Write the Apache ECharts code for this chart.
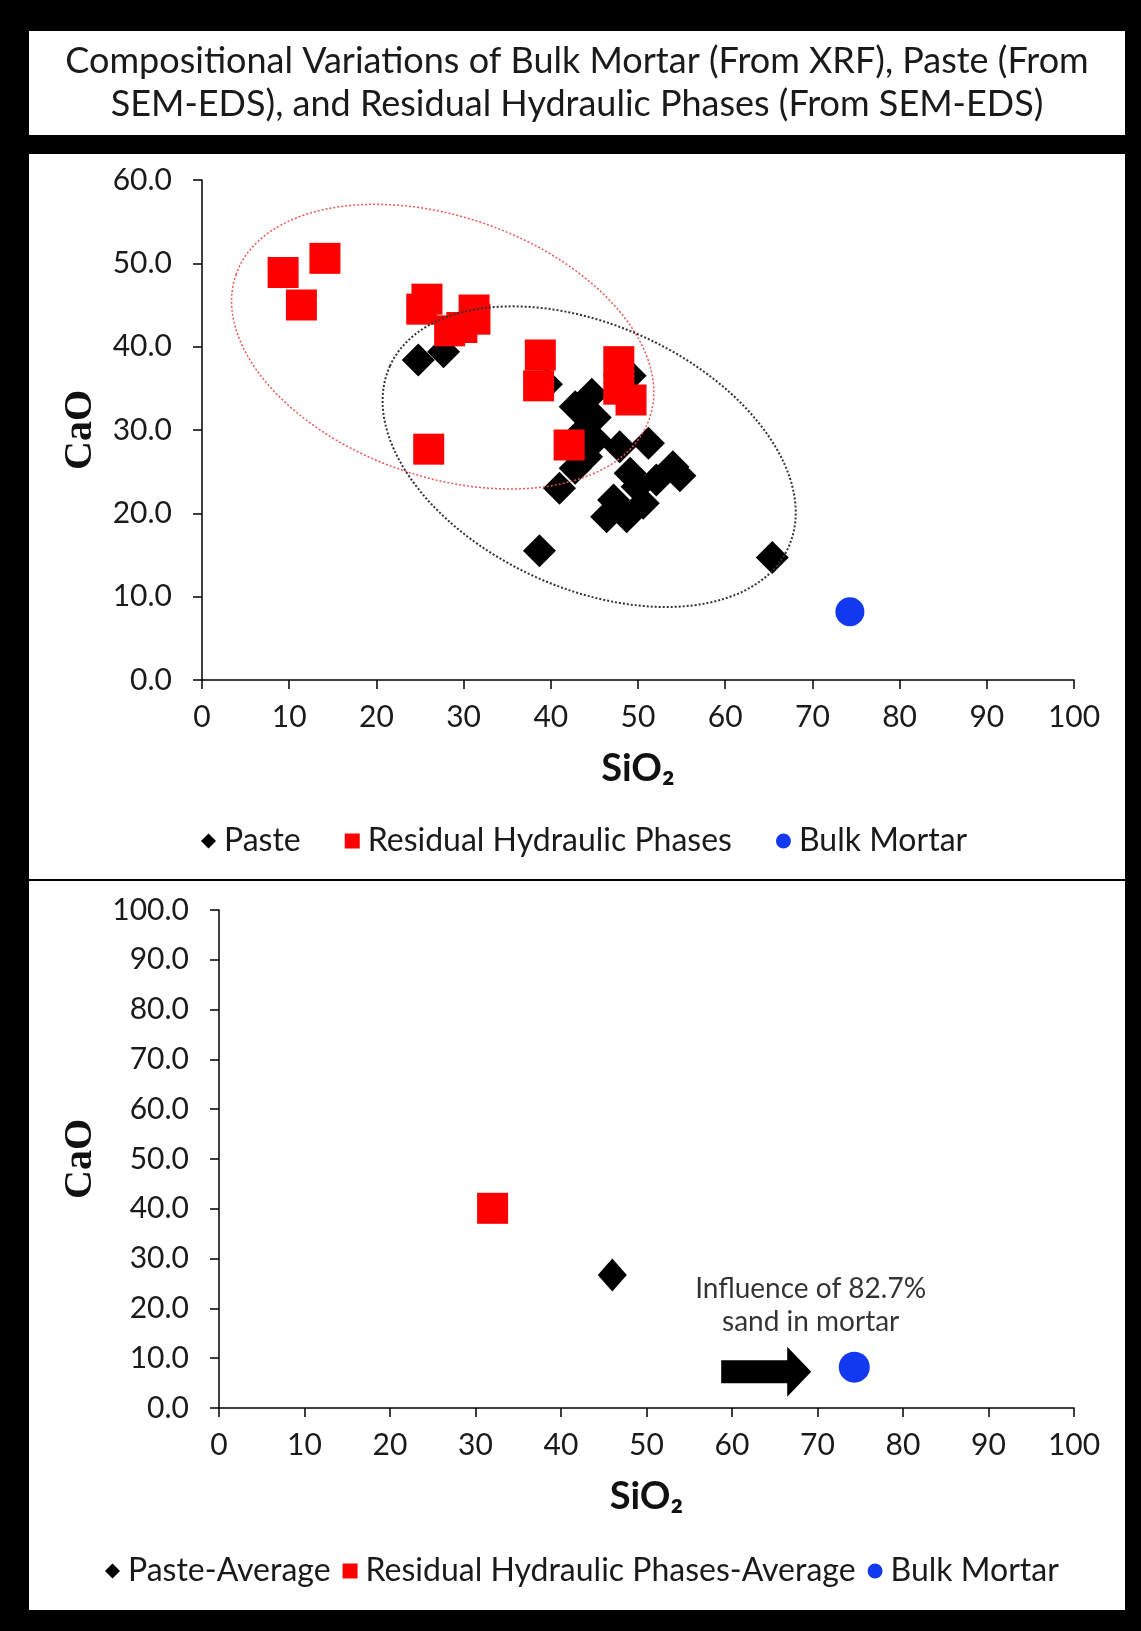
<!DOCTYPE html>
<html lang="en">
<head>
<meta charset="UTF-8">
<title>Compositional Variations of Bulk Mortar, Paste and Residual Hydraulic Phases</title>
<script src="https://cdn.jsdelivr.net/npm/echarts@6/dist/echarts.min.js"></script>
<style>
  html, body { margin: 0; padding: 0; background: #000; }
  #chart { width: 1141px; height: 1631px; }
</style>
</head>
<body>
<div id="chart"></div>
<script>
// [SiO2, CaO] pairs
const pastePoints = [
  [24.8, 38.4], [27.7, 39.4], [38.7, 15.5], [41.0, 23.0], [65.4, 14.7],
  [39.5, 35.5], [49.1, 36.5], [42.8, 32.8], [44.7, 34.3], [45.1, 31.5],
  [43.6, 29.8], [45.1, 28.8], [44.1, 26.8], [42.8, 25.4], [47.9, 28.0],
  [51.2, 28.4], [54.0, 25.6], [54.8, 24.5], [52.1, 24.0], [49.9, 23.2],
  [49.1, 24.8], [47.2, 21.6], [46.4, 19.6], [48.7, 19.6], [50.6, 21.2]
];
const residualPoints = [
  [9.3, 48.9], [14.1, 50.6], [11.4, 45.0], [25.8, 45.7], [25.2, 44.5],
  [31.2, 44.4], [28.4, 41.9], [29.8, 42.3], [31.3, 43.3], [26.0, 27.7],
  [38.8, 39.0], [38.6, 35.3], [42.1, 28.2], [47.8, 38.2], [47.8, 34.9],
  [49.2, 33.6]
];
const bulkMortar = [[74.3, 8.2]];
const pasteAverage = [[46.0, 26.7]];
const residualAverage = [[32.0, 40.1]];

// ellipses: centre SiO2, centre CaO, semi-axis (SiO2 units), semi-axis (CaO units), tilt in degrees
const pasteEllipse = [44.4, 26.8, 25.1, 15.8, 24.5];
const residualEllipse = [27.6, 40.0, 25.1, 15.6, 19.2];

// annotation in the lower chart
const sandArrow = [[64.0, 7.3]];
const sandNote = [[69.2, 20.5]];
const sandNoteText = 'Influence of 82.7%\nsand in mortar';

const xMax = 100, xStep = 10;
const yMaxTop = 60, yMaxBottom = 100, yStep = 10;
const titleLines = [
  'Compositional Variations of Bulk Mortar (From XRF), Paste (From',
  'SEM-EDS), and Residual Hydraulic Phases (From SEM-EDS)'
];

const FONT = 'Lato, "Open Sans", sans-serif';
const INK = '#1a1a1a';

const chart = echarts.init(document.getElementById('chart'));

function xAxisFor(gridIndex) {
  return {
    type: 'value', gridIndex: gridIndex, min: 0, max: xMax, interval: xStep,
    name: 'SiO\u2082', nameLocation: 'middle', nameGap: 70,
    nameTextStyle: { fontFamily: FONT, fontSize: 38, fontWeight: 'bold', color: '#111' },
    axisLine: { show: true, onZero: false, lineStyle: { color: '#000', width: 1.5 } },
    axisTick: { show: true, length: 9, lineStyle: { color: '#000', width: 1.5 } },
    axisLabel: { fontFamily: FONT, fontSize: 30, color: INK, margin: 22 },
    splitLine: { show: false }
  };
}

function yAxisFor(gridIndex, max, gap) {
  return {
    type: 'value', gridIndex: gridIndex, min: 0, max: max, interval: yStep,
    name: 'CaO', nameLocation: 'middle', nameGap: gap,
    nameTextStyle: { fontFamily: '"Liberation Serif", "DejaVu Serif", serif', fontSize: 40,
      fontWeight: 'bold', color: '#111' },
    axisLine: { show: true, onZero: false, lineStyle: { color: '#000', width: 1.5 } },
    axisTick: { show: true, length: 9, lineStyle: { color: '#000', width: 1.5 } },
    axisLabel: { fontFamily: FONT, fontSize: 30, color: INK, margin: 30,
      formatter: function (v) { return v.toFixed(1); } },
    splitLine: { show: false }
  };
}

function ellipseSeries(params, stroke, width) {
  return {
    type: 'custom', xAxisIndex: 0, yAxisIndex: 0, z: 10, silent: true,
    data: [params],
    renderItem: function (p, api) {
      const c = api.coord([api.value(0), api.value(1)]);
      const s = api.size([api.value(2), api.value(3)]);
      return {
        type: 'ellipse', x: c[0], y: c[1],
        rotation: -api.value(4) * Math.PI / 180,
        shape: { cx: 0, cy: 0, rx: s[0], ry: s[1] },
        style: { fill: 'none', stroke: stroke, lineWidth: width, lineDash: [2, 2] }
      };
    }
  };
}

const legendText = { fontFamily: FONT, fontSize: 32, color: INK, padding: [0, 0, 0, 3] };

chart.setOption({
  backgroundColor: '#000',
  animation: false,
  graphic: [
    { type: 'rect', z: -10, shape: { x: 29, y: 31, width: 1096, height: 104 }, style: { fill: '#fff' } },
    { type: 'rect', z: -10, shape: { x: 29, y: 154, width: 1096, height: 725 }, style: { fill: '#fff' } },
    { type: 'rect', z: -10, shape: { x: 29, y: 881, width: 1096, height: 729 }, style: { fill: '#fff' } },
    { type: 'text', x: 577, y: 61, style: { text: titleLines[0], font: '36px ' + FONT, fill: INK,
      align: 'center', verticalAlign: 'middle', textAlign: 'center', textVerticalAlign: 'middle' } },
    { type: 'text', x: 577, y: 104, style: { text: titleLines[1], font: '36px ' + FONT, fill: INK,
      align: 'center', verticalAlign: 'middle', textAlign: 'center', textVerticalAlign: 'middle' } }
  ],
  grid: [
    { left: 202, top: 180, width: 872, height: 500 },
    { left: 219, top: 910, width: 855, height: 498 }
  ],
  xAxis: [xAxisFor(0), xAxisFor(1)],
  yAxis: [yAxisFor(0, yMaxTop, 101), yAxisFor(1, yMaxBottom, 118)],
  legend: [
    {
      data: ['Paste', 'Residual Hydraulic Phases', 'Bulk Mortar'],
      left: 196, top: 820, itemGap: 44, itemWidth: 15, itemHeight: 15,
      selectedMode: false, textStyle: legendText
    },
    {
      data: ['Paste-Average', 'Residual Hydraulic Phases-Average', 'Bulk Mortar'],
      left: 100, top: 1550, itemGap: 12, itemWidth: 15, itemHeight: 15,
      selectedMode: false, textStyle: legendText
    }
  ],
  series: [
    { name: 'Paste', type: 'scatter', xAxisIndex: 0, yAxisIndex: 0, data: pastePoints,
      symbol: 'diamond', symbolSize: 33, itemStyle: { color: '#000', opacity: 1 }, z: 2 },
    { name: 'Residual Hydraulic Phases', type: 'scatter', xAxisIndex: 0, yAxisIndex: 0, data: residualPoints,
      symbol: 'rect', symbolSize: 31, itemStyle: { color: '#f00', opacity: 1 }, z: 3 },
    { name: 'Bulk Mortar', type: 'scatter', xAxisIndex: 0, yAxisIndex: 0, data: bulkMortar,
      symbol: 'circle', symbolSize: 29, itemStyle: { color: '#1238f0', opacity: 1 }, z: 3 },
    ellipseSeries(residualEllipse, '#e8585a', 1.5),
    ellipseSeries(pasteEllipse, '#333', 2),

    { name: 'Paste-Average', type: 'scatter', xAxisIndex: 1, yAxisIndex: 1, data: pasteAverage,
      symbol: 'diamond', symbolSize: [29, 33], itemStyle: { color: '#000', opacity: 1 } },
    { name: 'Residual Hydraulic Phases-Average', type: 'scatter', xAxisIndex: 1, yAxisIndex: 1, data: residualAverage,
      symbol: 'rect', symbolSize: 31, itemStyle: { color: '#f00', opacity: 1 } },
    { name: 'Bulk Mortar', type: 'scatter', xAxisIndex: 1, yAxisIndex: 1, data: bulkMortar,
      symbol: 'circle', symbolSize: 31, itemStyle: { color: '#1238f0', opacity: 1 } },
    { type: 'scatter', xAxisIndex: 1, yAxisIndex: 1, data: sandArrow, silent: true,
      symbol: 'path://M0,13.5 L66,13.5 L66,0 L90,25 L66,50 L66,36.5 L0,36.5 Z',
      symbolSize: [90, 50], symbolKeepAspect: false, itemStyle: { color: '#000', opacity: 1 } },
    { type: 'scatter', xAxisIndex: 1, yAxisIndex: 1, data: sandNote, silent: true,
      symbolSize: 0,
      label: { show: true, position: 'inside', formatter: sandNoteText, fontFamily: FONT,
        fontSize: 28, lineHeight: 33, color: '#000', align: 'center' } }
  ]
});

window.addEventListener('resize', function () { chart.resize(); });
</script>
</body>
</html>
